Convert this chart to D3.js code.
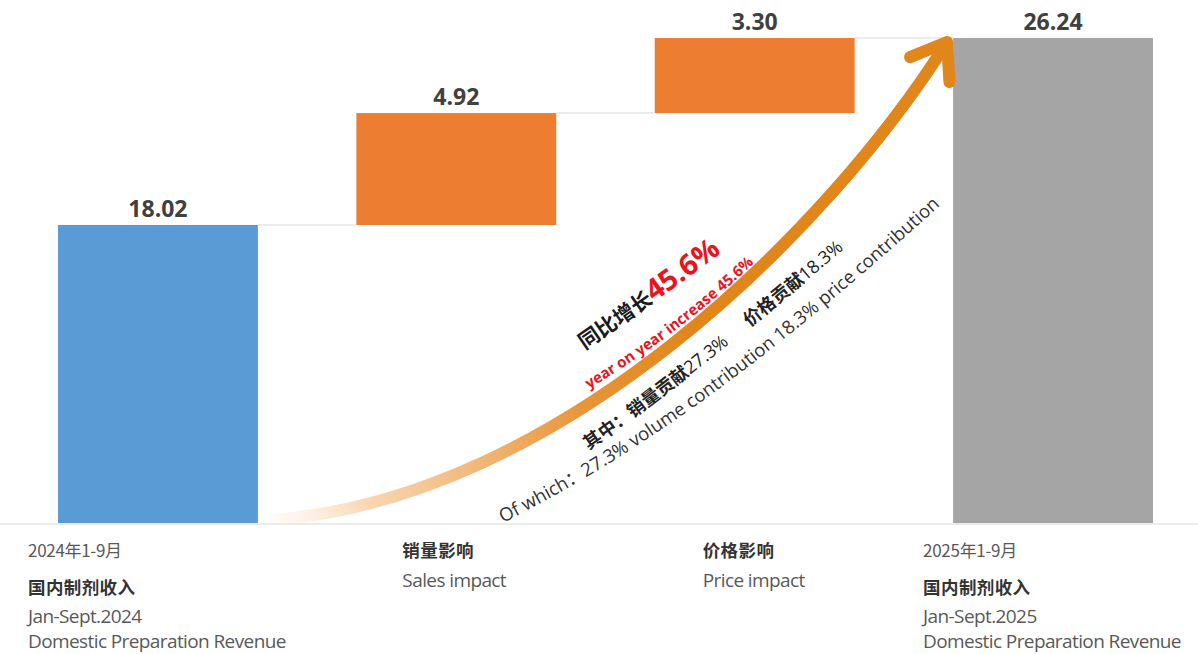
<!DOCTYPE html>
<html>
<head>
<meta charset="utf-8">
<script src="https://cdn.jsdelivr.net/npm/d3@7"></script>
<style>
  html, body { margin: 0; padding: 0; background: #fff; }
  svg { display: block; }
  text { font-family: "Open Sans", "Noto Sans CJK SC", sans-serif; }
  .cjk { font-family: "Noto Sans CJK SC", "Open Sans", sans-serif; }
</style>
</head>
<body>
<svg id="chart" width="1198" height="654"></svg>
<script>
// ---- data ----
const categories = ['start', 'sales', 'price', 'end'];
const values     = [18.02, 4.92, 3.30, 26.24];
const kinds      = ['total', 'delta', 'delta', 'total'];
const valueLabels = ['18.02', '4.92', '3.30', '26.24'];
const labelLines = [
  ['2024年1-9月', '国内制剂收入', 'Jan-Sept.2024', 'Domestic Preparation Revenue'],
  ['销量影响', 'Sales impact'],
  ['价格影响', 'Price impact'],
  ['2025年1-9月', '国内制剂收入', 'Jan-Sept.2025', 'Domestic Preparation Revenue']
];
const axisFloor = 4.92;

// ---- layout ----
const W = 1198, H = 654;
const baseY = 523, topY = 38;
const colors = { total0: '#5b9bd5', delta: '#ed7d31', total1: '#a5a5a5' };

const svg = d3.select('#chart');
const defs = svg.append('defs');

const x = d3.scaleBand()
  .domain(categories)
  .range([58, 1153])
  .paddingInner(0.33)
  .paddingOuter(0);

const y = d3.scaleLinear()
  .domain([axisFloor, values[3]])
  .range([baseY, topY]);

// running totals for the waterfall
let run = 0;
const bars = categories.map((c, i) => {
  let lo, hi;
  if (kinds[i] === 'total') { lo = axisFloor; hi = values[i]; run = values[i]; }
  else { lo = run; hi = run + values[i]; run = hi; }
  return { cat: c, lo, hi, i };
});

// baseline
svg.append('line')
  .attr('x1', 0).attr('x2', W)
  .attr('y1', baseY + 1).attr('y2', baseY + 1)
  .attr('stroke', '#ebebeb').attr('stroke-width', 2);

// connector lines
for (let i = 0; i < bars.length - 1; i++) {
  const level = bars[i].hi;
  svg.append('line')
    .attr('x1', x(bars[i].cat) + x.bandwidth())
    .attr('x2', x(bars[i + 1].cat))
    .attr('y1', y(level)).attr('y2', y(level))
    .attr('stroke', '#e6e6e6').attr('stroke-width', 1.5);
}

// bars
svg.selectAll('rect.bar')
  .data(bars)
  .enter().append('rect')
  .attr('class', 'bar')
  .attr('x', d => x(d.cat))
  .attr('width', x.bandwidth())
  .attr('y', d => y(d.hi))
  .attr('height', d => y(d.lo) - y(d.hi))
  .attr('fill', d => kinds[d.i] === 'delta' ? colors.delta : (d.i === 0 ? colors.total0 : colors.total1));

// value labels
svg.selectAll('text.val')
  .data(bars)
  .enter().append('text')
  .attr('class', 'val')
  .attr('x', d => x(d.cat) + x.bandwidth() / 2)
  .attr('y', d => y(d.hi) - 8)
  .attr('text-anchor', 'middle')
  .attr('font-size', 23)
  .attr('font-weight', 700)
  .attr('fill', '#404040')
  .text((d, i) => valueLabels[i]);

// category labels
const labelOffsets = [-30, 46, 48, -30];
const lineYs = [557, 594, 623, 648];
const subLineYs = [557, 587];
labelLines.forEach((lines, i) => {
  const lx = x(categories[i]) + labelOffsets[i];
  const ys = lines.length > 2 ? lineYs : subLineYs;
  lines.forEach((t, j) => {
    const isCjkHead = /国内|影响/.test(t);
    const isDate = /年/.test(t);
    svg.append('text')
      .attr('class', /[\u4e00-\u9fff]/.test(t) ? 'cjk' : null)
      .attr('x', lx)
      .attr('y', ys[j])
      .attr('font-size', isCjkHead ? 17.5 : (isDate ? 17 : 19))
      .attr('font-weight', isCjkHead ? 700 : 400)
      .attr('letter-spacing', isCjkHead ? 0.4 : (isDate ? -0.3 : -0.6))
      .attr('fill', isCjkHead ? '#333' : '#595959')
      .text(t);
  });
});

// growth arrow
const p0 = [x(categories[0]) + x.bandwidth() + 12, y(axisFloor) - 3];
const p3 = [x(categories[3]) - 6, y(values[3]) + 4];
const c1 = [560, 500], c2 = [830, 228];

const grad = defs.append('linearGradient')
  .attr('id', 'arrowGrad')
  .attr('gradientUnits', 'userSpaceOnUse')
  .attr('x1', p0[0]).attr('y1', p0[1])
  .attr('x2', 700).attr('y2', 340);
grad.append('stop').attr('offset', 0).attr('stop-color', '#fdebd9').attr('stop-opacity', 0.2);
grad.append('stop').attr('offset', 0.2).attr('stop-color', '#f8d3ab').attr('stop-opacity', 0.9);
grad.append('stop').attr('offset', 0.7).attr('stop-color', '#e8963a');
grad.append('stop').attr('offset', 1).attr('stop-color', '#e0861a');

const curve = d3.path();
curve.moveTo(p0[0], p0[1]);
curve.bezierCurveTo(c1[0], c1[1], c2[0], c2[1], p3[0], p3[1]);
svg.append('path')
  .attr('d', curve.toString())
  .attr('fill', 'none')
  .attr('stroke', 'url(#arrowGrad)')
  .attr('stroke-width', 12);

// arrow head (open chevron)
const ang = Math.atan2(p3[1] - c2[1], p3[0] - c2[0]);
const armLen = 40, spread = 0.62;
const a1 = [p3[0] - armLen * Math.cos(ang - spread), p3[1] - armLen * Math.sin(ang - spread)];
const a2 = [p3[0] - armLen * Math.cos(ang + spread), p3[1] - armLen * Math.sin(ang + spread)];
svg.append('path')
  .attr('d', `M${a1[0]},${a1[1]}L${p3[0]},${p3[1]}L${a2[0]},${a2[1]}`)
  .attr('fill', 'none')
  .attr('stroke', '#e0861a')
  .attr('stroke-width', 12)
  .attr('stroke-linecap', 'round')
  .attr('stroke-linejoin', 'round');

// annotations follow curved baselines parallel to the arrow
function guide(id, pts) {
  const p = d3.path();
  p.moveTo(pts[0][0], pts[0][1]);
  p.bezierCurveTo(pts[1][0], pts[1][1], pts[2][0], pts[2][1], pts[3][0], pts[3][1]);
  defs.append('path').attr('id', id).attr('d', p.toString());
}
guide('gHead', [[585, 350], [628, 320], [688, 280], [745, 234]]);
guide('gYoy',  [[589, 389], [640, 358], [700, 316], [770, 248]]);
guide('gSub',  [[589, 450], [650, 408], [760, 322], [880, 218]]);
guide('gOf',   [[503, 523], [653, 447], [785, 347], [965, 183]]);

const head = svg.append('text').append('textPath').attr('href', '#gHead');
head.append('tspan').attr('class', 'cjk')
  .attr('font-size', 21).attr('font-weight', 700).attr('fill', '#1a1a1a')
  .text('同比增长');
head.append('tspan')
  .attr('font-size', 29).attr('font-weight', 700).attr('fill', '#e8141e')
  .text('45.6%');

svg.append('text').append('textPath').attr('href', '#gYoy')
  .attr('font-size', 15).attr('font-weight', 700).attr('fill', '#e8141e')
  .text('year on year increase 45.6%');

const sub = svg.append('text').append('textPath').attr('href', '#gSub')
  .attr('font-size', 18).attr('fill', '#222');
sub.append('tspan').attr('class', 'cjk').attr('font-weight', 700).text('其中：销量贡献');
sub.append('tspan').text('27.3%');
sub.append('tspan').attr('class', 'cjk').attr('font-weight', 700).attr('dx', 26).text('价格贡献');
sub.append('tspan').text('18.3%');

svg.append('text').append('textPath').attr('href', '#gOf')
  .attr('font-size', 18.5).attr('fill', '#333')
  .text('Of which：27.3% volume contribution 18.3% price contribution');
</script>
</body>
</html>
